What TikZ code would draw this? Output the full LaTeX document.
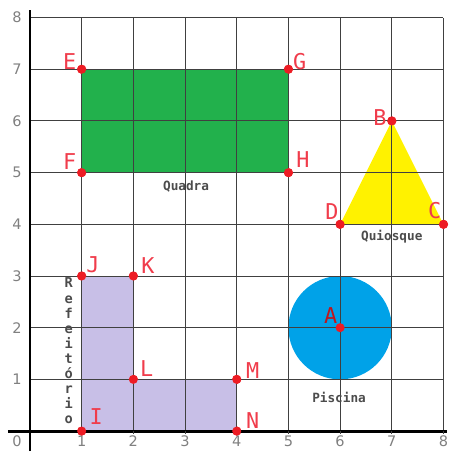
\documentclass[tikz,border=0pt]{standalone}
\usepackage{fontspec}
\setmainfont{DejaVu Sans}
\setmonofont{DejaVu Sans Mono}
\usetikzlibrary{positioning}
\definecolor{quadra}{RGB}{34,177,76}
\definecolor{quiosque}{RGB}{255,242,0}
\definecolor{piscina}{RGB}{0,162,232}
\definecolor{refeitorio}{RGB}{200,191,231}
\definecolor{ptred}{RGB}{237,28,36}
\definecolor{lblred}{RGB}{240,60,75}
\tikzset{
    ponto/.style={circle, fill=ptred, inner sep=0pt, minimum size=5pt}, % pontos do mapa
    rotulo/.style={text=lblred, font=\ttfamily\large},
    legenda/.style={font=\ttfamily\scriptsize\bfseries, text=black!70},
    grade/.style={black!75, line width=0.5pt},
    eixo/.style={line width=1.6pt},
    numero/.style={font=\footnotesize, text=black!50},
}

\begin{document}
\begin{tikzpicture}
  \useasboundingbox (-0.58,-0.39) rectangle (8.30,8.34);

  \node[ponto] (A) at (6,2) {};
  \node[ponto] (B) at (7,6) {};
  \node[ponto] (C) at (8,4) {};
  \node[ponto] (D) at (6,4) {};
  \node[ponto] (E) at (1,7) {};
  \node[ponto] (F) at (1,5) {};
  \node[ponto] (G) at (5,7) {};
  \node[ponto] (H) at (5,5) {};
  \node[ponto] (I) at (1,0) {};
  \node[ponto] (J) at (1,3) {};
  \node[ponto] (K) at (2,3) {};
  \node[ponto] (L) at (2,1) {};
  \node[ponto] (M) at (4,1) {};
  \node[ponto] (N) at (4,0) {};

  % areas
  \fill[quadra] (F.center) rectangle (G.center);
  \fill[quiosque] (D.center) -- (B.center) -- (C.center) -- cycle;
  \fill[piscina] (A.center) circle (1);
  \fill[refeitorio] (I.center) -- (J.center) -- (K.center) -- (L.center)
    -- (M.center) -- (N.center) -- cycle;

  % grade
  \draw[grade] (0,0) grid (8,8);
  \draw[eixo] (-0.43,0) -- (8.06,0);
  \draw[eixo] (0,-0.39) -- (0,8.14);
  \foreach \i in {1,...,8} {
    \draw[grade] (\i,0) -- (\i,-0.06);
    \node[numero] (nx\i) at (\i,-0.2) {\i};
    \node[numero] (ny\i) at (-0.25,\i) {\i};
  }
  \node[numero] (n0) at (-0.25,-0.2) {0};

  % pontos por cima
  \foreach \p in {A,B,C,D,E,F,G,H,I,J,K,L,M,N}
    \fill[ptred] (\p) circle (2.5pt);

  \node[rotulo, text=ptred!80!black] (lA) at (5.82,2.24) {A};
  \node[rotulo] (lB) at (6.77,6.07) {B};
  \node[rotulo] (lC) at (7.83,4.27) {C};
  \node[rotulo] (lD) at (5.84,4.24) {D};
  \node[rotulo] (lE) at (0.77,7.14) {E};
  \node[rotulo] (lF) at (0.77,5.22) {F};
  \node[rotulo] (lG) at (5.22,7.14) {G};
  \node[rotulo] (lH) at (5.28,5.26) {H};
  \node[rotulo] (lI) at (1.28,0.29) {I};
  \node[rotulo] (lJ) at (1.22,3.21) {J};
  \node[rotulo] (lK) at (2.28,3.21) {K};
  \node[rotulo] (lL) at (2.26,1.20) {L};
  \node[rotulo] (lM) at (4.31,1.18) {M};
  \node[rotulo] (lN) at (4.31,0.21) {N};

  \node[legenda] (tQuadra) at (3.02,4.74) {Quadra};
  \node[legenda] (tQuiosque) at (7.0,3.77) {Quiosque};
  \node[legenda] (tPiscina) at (5.98,0.66) {Piscina};
  \node[legenda, align=center, font=\ttfamily\bfseries\fontsize{7.5}{8.3}\selectfont]
    (tRefeitorio) at (0.75,1.55) {R\\e\\f\\e\\i\\t\\ó\\r\\i\\o};
\end{tikzpicture}
\end{document}
